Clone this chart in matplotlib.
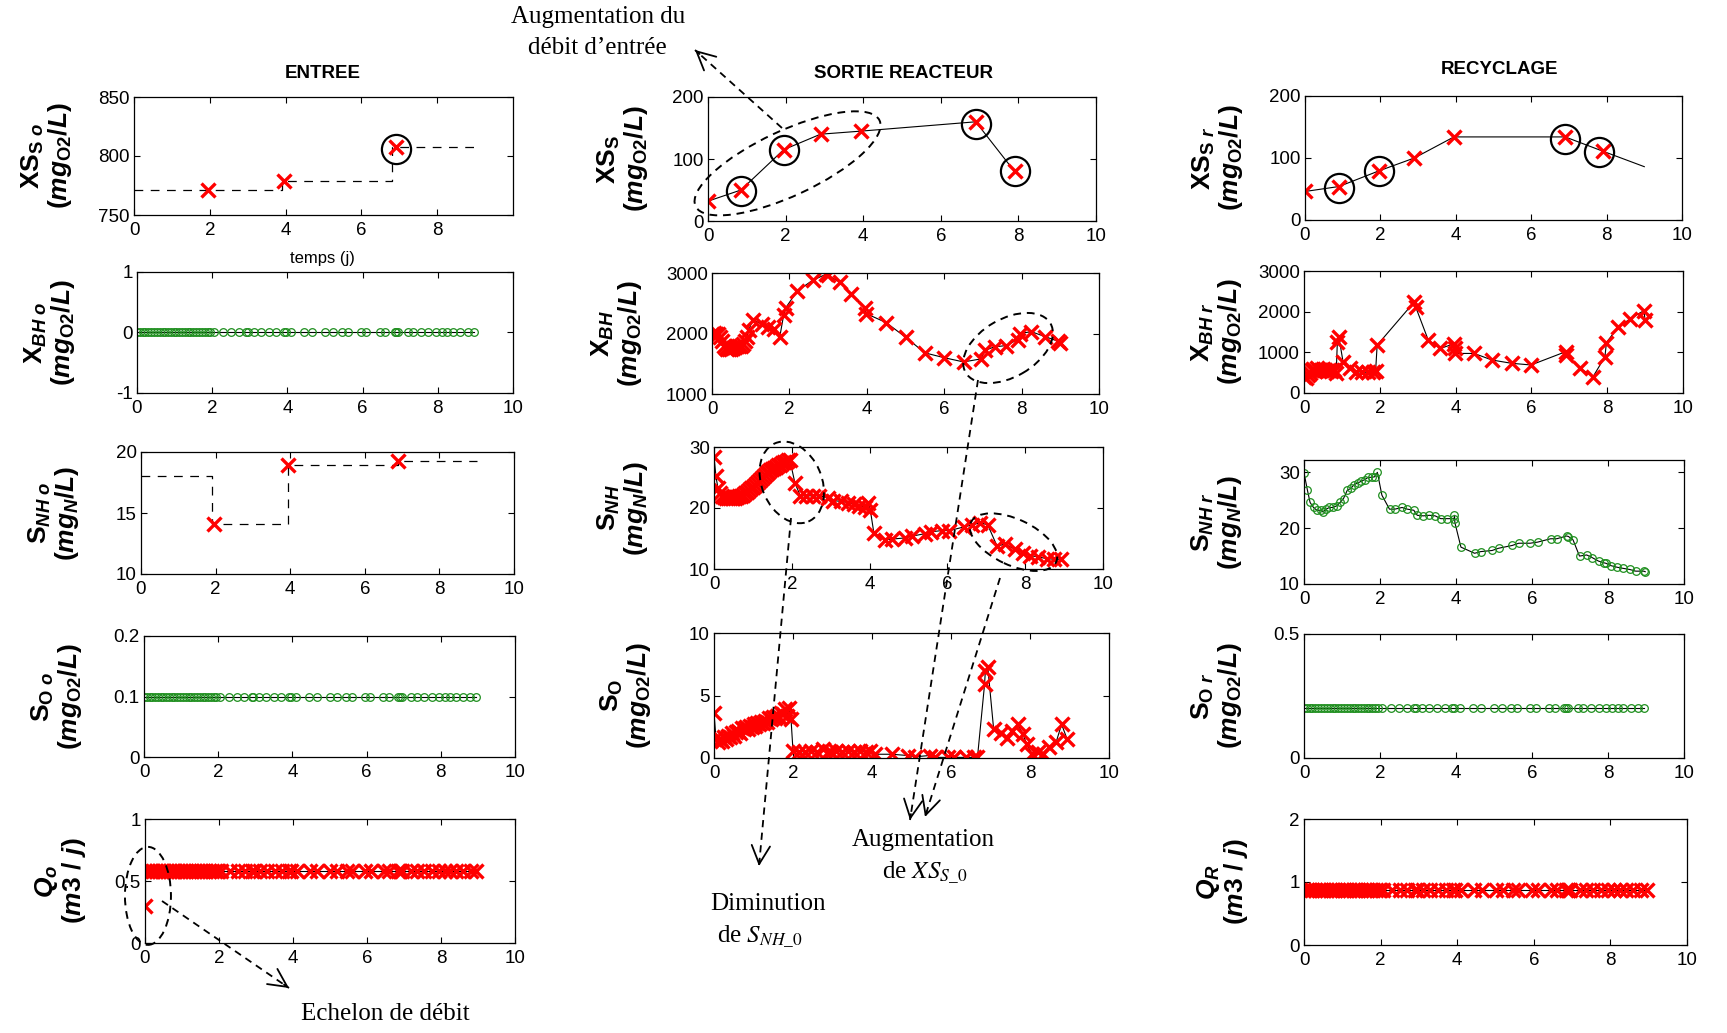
import numpy as np
import matplotlib
matplotlib.use("Agg")
import matplotlib.pyplot as plt
from matplotlib.patches import Ellipse
from matplotlib.lines import Line2D
from matplotlib.ticker import FuncFormatter
from matplotlib.transforms import ScaledTranslation

W_PX, H_PX, DPI = 1727, 1033, 100
GREEN = "#1f8f1f"

plt.rcParams["font.family"] = ["Liberation Sans", "DejaVu Sans"]
plt.rcParams["axes.unicode_minus"] = False
plt.rcParams["mathtext.fontset"] = "custom"
plt.rcParams["mathtext.rm"] = "Liberation Sans:bold"
plt.rcParams["mathtext.it"] = "Liberation Sans:italic:bold"
plt.rcParams["mathtext.bf"] = "Liberation Sans:bold"
plt.rcParams["mathtext.default"] = "rm"

# ---------------- données ----------------
# grille de temps commune (jours) pour les séries constantes
t_grid = [0.0, 0.08, 0.15, 0.22, 0.3, 0.38, 0.45, 0.52, 0.6, 0.68, 0.75, 0.82, 0.9,
          0.98, 1.05, 1.12, 1.2, 1.28, 1.35, 1.42, 1.5, 1.58, 1.65, 1.72, 1.8, 1.88,
          1.95, 2.05, 2.3, 2.5, 2.7, 2.9, 2.95, 3.1, 3.3, 3.5, 3.7, 3.9, 3.95, 4.1, 4.45,
          4.65, 5.0, 5.2, 5.45, 5.6, 5.95, 6.1, 6.45, 6.6, 6.85, 6.9, 6.95, 7.2, 7.35,
          7.55, 7.75, 7.95, 8.1, 8.25, 8.4, 8.6, 8.8, 8.95]

# ENTREE
xs0_step_t = [0.0, 3.9, 6.8, 9.0]
xs0_step_v = [771, 779, 808, 808]
xs0_pts_t = [1.95, 3.95, 6.9]
xs0_pts_v = [771, 779, 808]
xs0_circ_t = [6.9]
xs0_circ_v = [806]

XBH0_LEVEL = 0.0

snh0_step_t = [0.0, 1.9, 3.95, 6.9, 9.0]
snh0_step_v = [18.0, 14.1, 18.9, 19.3, 19.3]
snh0_pts_t = [1.95, 3.95, 6.9]
snh0_pts_v = [14.1, 18.9, 19.3]

SO0_LEVEL = 0.1

Q0_START = 0.3
Q0_LEVEL = 0.58

# SORTIE REACTEUR
xs_t = [0.0, 0.85, 1.95, 2.9, 3.95, 6.9, 7.9]
xs_v = [32, 50, 115, 140, 145, 160, 80]
xs_circ_t = [0.85, 1.95, 6.9, 7.9]
xs_circ_v = [48, 115, 157, 80]

xbh_t = [0.0, 0.05, 0.1, 0.15, 0.2, 0.25, 0.3, 0.35, 0.4, 0.45, 0.5, 0.55, 0.6, 0.65,
         0.7, 0.75, 0.8, 0.85, 0.9, 0.95, 1.05, 1.3, 1.45, 1.6, 1.75, 1.85, 1.9, 2.2,
         2.6, 2.95, 3.0, 3.3, 3.6, 3.95, 3.98, 4.5, 5.0, 5.5, 6.0, 6.5, 6.95, 7.05,
         7.3, 7.6, 7.9, 7.95, 8.25, 8.6, 8.95, 9.0]
xbh_v = [2000, 2010, 1990, 2000, 1950, 1870, 1800, 1760, 1750, 1740, 1750, 1760, 1780,
         1790, 1800, 1800, 1820, 1870, 1950, 2050, 2230, 2150, 2100, 2070, 1940, 2300,
         2420, 2700, 2880, 2980, 2960, 2850, 2650, 2420, 2330, 2180, 1940, 1680, 1600,
         1530, 1580, 1720, 1780, 1800, 1900, 2000, 2030, 1950, 1870, 1850]

snh_t = [0.0, 0.05, 0.1, 0.15, 0.2, 0.25, 0.3, 0.35, 0.4, 0.45, 0.5, 0.55, 0.6, 0.65,
         0.7, 0.75, 0.8, 0.85, 0.9, 0.95, 1.0, 1.05, 1.1, 1.15, 1.2, 1.25, 1.3, 1.35,
         1.4, 1.45, 1.5, 1.55, 1.6, 1.65, 1.7, 1.75, 1.8, 1.85, 1.9, 1.95, 2.08, 2.22,
         2.36, 2.55, 2.69, 2.93, 3.07, 3.26, 3.45, 3.59, 3.73, 3.88, 3.97, 4.02, 4.11,
         4.4, 4.58, 4.91, 5.1, 5.43, 5.58, 5.86, 6.05, 6.43, 6.62, 6.85, 7.04, 7.28,
         7.47, 7.75, 7.94, 8.13, 8.32, 8.55, 8.74, 8.93]
snh_v = [28.4, 25.2, 23.3, 22.4, 22.0, 21.8, 21.7, 21.6, 21.6, 21.6, 21.7, 21.7, 21.8,
         21.9, 22.0, 22.2, 22.4, 22.6, 22.9, 23.2, 23.5, 23.8, 24.1, 24.4, 24.8, 25.1,
         25.4, 25.7, 25.9, 26.2, 26.4, 26.6, 26.8, 27.0, 27.1, 27.3, 27.5, 27.6, 27.8,
         27.9, 24.1, 22.0, 22.0, 22.0, 22.0, 21.7, 21.2, 21.1, 20.9, 20.7, 20.4, 20.1,
         20.9, 19.6, 15.9, 14.8, 14.9, 15.1, 15.4, 15.8, 16.1, 16.3, 16.3, 16.9, 17.2,
         17.6, 17.2, 13.7, 14.1, 13.2, 12.7, 12.2, 12.0, 11.7, 11.6, 11.6]

so_t = [0.0, 0.05, 0.1, 0.15, 0.2, 0.25, 0.3, 0.35, 0.4, 0.45, 0.5, 0.55, 0.6, 0.65,
        0.7, 0.75, 0.8, 0.85, 0.9, 0.95, 1.0, 1.05, 1.1, 1.15, 1.2, 1.25, 1.3, 1.35,
        1.4, 1.45, 1.5, 1.55, 1.6, 1.65, 1.7, 1.75, 1.8, 1.85, 1.9, 1.95, 2.0, 2.15,
        2.3, 2.45, 2.6, 2.75, 2.9, 2.95, 3.1, 3.25, 3.4, 3.55, 3.7, 3.85, 3.95, 4.07,
        4.5, 4.9, 5.1, 5.46, 5.6, 5.93, 6.07, 6.39, 6.57, 6.67, 6.85, 6.87, 6.93, 7.08,
        7.27, 7.41, 7.55, 7.69, 7.82, 7.92, 8.05, 8.19, 8.33, 8.47, 8.66, 8.8, 8.94]
so_v = [3.6, 1.6, 1.3, 1.5, 1.4, 1.7, 1.5, 1.8, 1.7, 2.0, 1.8, 2.1, 2.2, 2.0, 2.4, 2.3,
        2.5, 2.3, 2.6, 2.5, 2.7, 2.6, 2.8, 2.7, 2.9, 2.8, 3.0, 2.9, 3.2, 3.1, 3.3, 3.2,
        3.4, 3.3, 3.6, 3.5, 3.9, 3.4, 4.0, 3.1, 0.6, 0.5, 0.5, 0.6, 0.5, 0.7, 0.6, 0.5,
        0.6, 0.5, 0.6, 0.5, 0.6, 0.5, 0.6, 0.3, 0.3, 0.2, 0.1, 0.2, 0.05, 0.05, 0.05,
        0.05, 0.05, 0.05, 5.9, 7.0, 7.3, 2.3, 2.0, 1.6, 2.2, 2.7, 1.9, 1.1, 0.3, 0.45,
        0.3, 0.85, 1.25, 2.7, 1.5]

# RECYCLAGE
xsr_t = [0.0, 0.9, 1.95, 2.9, 3.95, 6.9, 7.9, 9.0]
xsr_v = [46, 54, 79, 100, 134, 134, 111, 86]
xsr_mark_n = 7          # le dernier point n'a pas de marqueur
xsr_circ_t = [0.9, 1.95, 6.9, 7.8]
xsr_circ_v = [51, 79, 130, 110]

xbhr_t = [0.0, 0.05, 0.1, 0.15, 0.2, 0.25, 0.3, 0.35, 0.4, 0.45, 0.5, 0.55, 0.6, 0.65,
          0.7, 0.75, 0.8, 0.85, 0.88, 0.92, 1.03, 1.22, 1.36, 1.54, 1.69, 1.83, 1.89,
          1.93, 2.9, 2.95, 3.28, 3.6, 3.97, 3.98, 3.99, 4.49, 4.96, 5.48, 5.99, 6.9,
          6.92, 7.28, 7.63, 7.94, 7.98, 8.29, 8.61, 8.97, 9.0]
xbhr_v = [405, 365, 446, 500, 568, 584, 540, 608, 560, 568, 590, 568, 540, 568, 551, 560,
          568, 500, 1257, 1378, 770, 608, 527, 511, 511, 511, 551, 1176, 2230, 2108, 1297,
          1095, 1216, 1095, 973, 973, 811, 730, 689, 1014, 932, 608, 405, 892, 1241, 1622,
          1824, 2027, 1784]

snhr_t = [0.0, 0.09, 0.16, 0.25, 0.34, 0.44, 0.5, 0.58, 0.67, 0.76, 0.86, 0.95, 1.04,
          1.14, 1.23, 1.32, 1.42, 1.51, 1.6, 1.69, 1.79, 1.86, 1.93, 2.05, 2.25, 2.39,
          2.58, 2.72, 2.89, 2.98, 3.14, 3.3, 3.45, 3.6, 3.76, 3.95, 3.96, 3.97, 4.13,
          4.49, 4.65, 4.95, 5.12, 5.48, 5.65, 5.95, 6.15, 6.49, 6.65, 6.91, 6.96, 7.08,
          7.25, 7.44, 7.59, 7.75, 7.89, 7.95, 8.07, 8.24, 8.4, 8.57, 8.73, 8.94, 8.98]
snhr_v = [29.9, 26.8, 24.6, 23.7, 23.2, 23.2, 22.9, 23.4, 23.7, 23.7, 24.0, 24.6, 25.3,
          26.8, 27.1, 27.8, 28.1, 28.4, 28.7, 29.1, 29.1, 29.2, 30.0, 25.9, 23.4, 23.4,
          23.7, 23.4, 23.2, 22.3, 22.2, 22.3, 22.2, 21.7, 21.7, 21.7, 22.3, 21.0, 16.6,
          15.5, 15.8, 16.0, 16.4, 16.9, 17.3, 17.3, 17.5, 18.1, 18.1, 18.6, 18.5, 17.9,
          15.0, 15.2, 14.7, 14.1, 13.8, 13.7, 13.3, 13.0, 12.8, 12.6, 12.3, 12.3, 12.2]

SOR_LEVEL = 0.2
QR_LEVEL = 0.87

# ---------------- figure ----------------
fig = plt.figure(figsize=(W_PX / DPI, H_PX / DPI), dpi=DPI)


def add_ax(l, t, r, b):
    """axes placé en pixels (origine en haut à gauche)"""
    ax = fig.add_axes([l / W_PX, 1 - b / H_PX, (r - l) / W_PX, (b - t) / H_PX])
    ax._px = (l, r)
    return ax


def style(ax, ylim, yticks, xticks=(0, 2, 4, 6, 8, 10)):
    ax.set_xlim(0, 10)
    ax.set_ylim(*ylim)
    ax.set_xticks(list(xticks))
    ax.set_yticks(list(yticks))
    fmt = FuncFormatter(lambda v, p: f"{v:g}")
    ax.xaxis.set_major_formatter(fmt)
    ax.yaxis.set_major_formatter(fmt)
    ax.tick_params(direction="in", top=True, right=True, length=4, width=0.8,
                   labelsize=13.5)
    ax.tick_params(axis="x", pad=5)
    ax.tick_params(axis="y", pad=3)
    for s in ax.spines.values():
        s.set_linewidth(0.9)


def ylab(ax, line1, line2, gap_px=60):
    ax.set_ylabel(line1 + "\n" + line2, fontsize=19, linespacing=1.0)
    l, r = ax._px
    ax.yaxis.set_label_coords(-gap_px / (r - l), 0.5)


def red_x(ax, t, v, line=True):
    if line:
        ax.plot(t, v, color="k", lw=0.8)
    ax.plot(t, v, ls="none", marker="x", color="red", ms=9.5, mew=2.4)


def green_o(ax, t, v):
    ax.plot(t, v, color="k", lw=0.8)
    ax.plot(t, v, ls="none", marker="o", mfc="none", mec=GREEN, ms=5.5, mew=0.9)


def circles(ax, t, v):
    ax.plot(t, v, ls="none", marker="o", ms=21, mfc="none", mec="k", mew=1.6)


def px_ellipse(ax, x, y, w_px, h_px, angle):
    tr = fig.dpi_scale_trans + ScaledTranslation(x, y, ax.transData)
    e = Ellipse((0, 0), w_px / DPI, h_px / DPI, angle=angle, transform=tr,
                fill=False, ec="k", lw=1.4, ls=(0, (4, 3)))
    fig.add_artist(e)


def dashed_arrow(p0, p1):
    x0, y0 = p0[0], H_PX - p0[1]
    x1, y1 = p1[0], H_PX - p1[1]
    fig.add_artist(Line2D([x0 / W_PX, x1 / W_PX], [y0 / H_PX, y1 / H_PX],
                          transform=fig.transFigure, color="k", lw=1.3,
                          ls=(0, (4, 3))))
    d = np.hypot(x1 - x0, y1 - y0)
    bx, by = x1 - (x1 - x0) / d * 6, y1 - (y1 - y0) / d * 6
    fig.add_artist(plt.Annotation("", xy=(x1, y1), xytext=(bx, by),
                                  xycoords="figure pixels", textcoords="figure pixels",
                                  arrowprops=dict(arrowstyle="->,head_length=0.6,head_width=0.3",
                                                  lw=1.3, color="k", mutation_scale=22,
                                                  shrinkA=0, shrinkB=0)))


O2 = r"$\mathit{(mg}_{O2}\mathit{/L)}$"
NN = r"$\mathit{(mg}_{\mathit{N}}\mathit{/L)}$"
QQ = r"$\mathit{(m3\ /\ j)}$"
DASH = (0, (7, 6))

# ---- ENTREE ----
ax = add_ax(134, 97, 513, 215)
style(ax, (750, 850), (750, 800, 850), xticks=(0, 2, 4, 6, 8))
ax.plot(xs0_step_t, xs0_step_v, color="k", lw=0.9, ls=DASH, drawstyle="steps-post")
red_x(ax, xs0_pts_t, xs0_pts_v, line=False)
circles(ax, xs0_circ_t, xs0_circ_v)
ylab(ax, r"$XS_{S\ \mathit{o}}$", O2)

ax = add_ax(137, 272, 513, 393)
style(ax, (-1, 1), (-1, 0, 1))
green_o(ax, t_grid, np.full(len(t_grid), XBH0_LEVEL))
ylab(ax, r"$X_{\mathit{BH}\ \mathit{o}}$", O2)

ax = add_ax(141, 452, 514, 574)
style(ax, (10, 20), (10, 15, 20))
ax.plot(snh0_step_t, snh0_step_v, color="k", lw=0.9, ls=DASH, drawstyle="steps-post")
red_x(ax, snh0_pts_t, snh0_pts_v, line=False)
ylab(ax, r"$S_{\mathit{NH}\ \mathit{o}}$", NN)

ax = add_ax(144, 636, 515, 757)
style(ax, (0, 0.2), (0, 0.1, 0.2))
green_o(ax, t_grid, np.full(len(t_grid), SO0_LEVEL))
ylab(ax, r"$S_{O\ \mathit{o}}$", O2)

ax_q0 = add_ax(145, 819, 515, 943)
style(ax_q0, (0, 1), (0, 0.5, 1))
q0_t = [0.0] + t_grid
q0_v = np.r_[Q0_START, np.full(len(t_grid), Q0_LEVEL)]
red_x(ax_q0, q0_t, q0_v)
ylab(ax_q0, r"$\mathit{Q}_{\mathit{o}}$", QQ, gap_px=57)
px_ellipse(ax_q0, 0.08, 0.38, 46, 98, 0)

# ---- SORTIE REACTEUR ----
ax_xs = add_ax(708, 97, 1096, 221)
style(ax_xs, (0, 200), (0, 100, 200))
red_x(ax_xs, xs_t, xs_v)
circles(ax_xs, xs_circ_t, xs_circ_v)
ylab(ax_xs, r"$XS_{S}$", O2, gap_px=58)
px_ellipse(ax_xs, 2.05, 93, 203, 65, 25)

ax_xbh = add_ax(712, 273, 1099, 394)
style(ax_xbh, (1000, 3000), (1000, 2000, 3000))
red_x(ax_xbh, xbh_t, xbh_v)
ylab(ax_xbh, r"$X_{\mathit{BH}}$", O2, gap_px=68)
px_ellipse(ax_xbh, 7.65, 1760, 98, 58, 30)

ax_snh = add_ax(714, 447, 1103, 569)
style(ax_snh, (10, 30), (10, 20, 30))
red_x(ax_snh, snh_t, snh_v)
ylab(ax_snh, r"$S_{\mathit{NH}}$", NN, gap_px=64)
px_ellipse(ax_snh, 2.0, 24.2, 60, 85, 23)
px_ellipse(ax_snh, 7.7, 14.4, 94, 46, -25)

ax = add_ax(714, 633, 1109, 758)
style(ax, (0, 10), (0, 5, 10))
red_x(ax, so_t, so_v)
ylab(ax, r"$S_{O}$", O2, gap_px=61)

# ---- RECYCLAGE ----
ax = add_ax(1305, 96, 1682, 220)
style(ax, (0, 200), (0, 100, 200))
ax.plot(xsr_t, xsr_v, color="k", lw=0.8)
red_x(ax, xsr_t[:xsr_mark_n], xsr_v[:xsr_mark_n], line=False)
circles(ax, xsr_circ_t, xsr_circ_v)
ylab(ax, r"$XS_{S\ \mathit{r}}$", O2)

ax = add_ax(1304, 271, 1683, 393)
style(ax, (0, 3000), (0, 1000, 2000, 3000))
red_x(ax, xbhr_t, xbhr_v)
ylab(ax, r"$X_{\mathit{BH}\ \mathit{r}}$", O2)

ax = add_ax(1304, 460, 1684, 584)
style(ax, (10, 32.2), (10, 20, 30))
green_o(ax, snhr_t, snhr_v)
ylab(ax, r"$S_{\mathit{NH}\ \mathit{r}}$", NN)

ax = add_ax(1304, 634, 1684, 758)
style(ax, (0, 0.5), (0, 0.5))
green_o(ax, t_grid, np.full(len(t_grid), SOR_LEVEL))
ylab(ax, r"$S_{O\ \mathit{r}}$", O2)

ax = add_ax(1304, 819, 1687, 945)
style(ax, (0, 2), (0, 1, 2))
red_x(ax, t_grid, np.full(len(t_grid), QR_LEVEL))
ylab(ax, r"$\mathit{Q}_{\mathit{R}}$", QQ, gap_px=54)

# ---- titres et textes ----
def ftext(x, y, s, **kw):
    fig.text(x / W_PX, 1 - y / H_PX, s, ha="center", va="center", **kw)


ftext(323, 73, "ENTREE", fontsize=13.5, fontweight="bold")
ftext(903, 73, "SORTIE REACTEUR", fontsize=13.5, fontweight="bold")
ftext(1500, 70, "RECYCLAGE", fontsize=13.5, fontweight="bold")
ftext(322, 258, "temps (j)", fontsize=12)

serif = dict(family=["Liberation Serif", "DejaVu Serif"], fontsize=18, math_fontfamily="stix")
ftext(598, 17, "Augmentation du", **serif)
ftext(597, 48, "débit d’entrée", **serif)
ftext(385, 1014, "Echelon de débit", **serif)
ftext(768, 904, "Diminution", **serif)
ftext(760, 937, r"de $\mathit{S}_{\mathit{NH\_0}}$", **serif)
ftext(923, 840, "Augmentation", **serif)
ftext(925, 873, r"de $\mathit{XS}_{\mathit{S\_0}}$", **serif)

dashed_arrow((782, 128), (695, 50))
dashed_arrow((162, 901), (289, 988))
dashed_arrow((791, 518), (759, 866))
dashed_arrow((978, 380), (910, 820))
dashed_arrow((1000, 578), (925, 817))

fig.savefig("out.png", dpi=DPI)
